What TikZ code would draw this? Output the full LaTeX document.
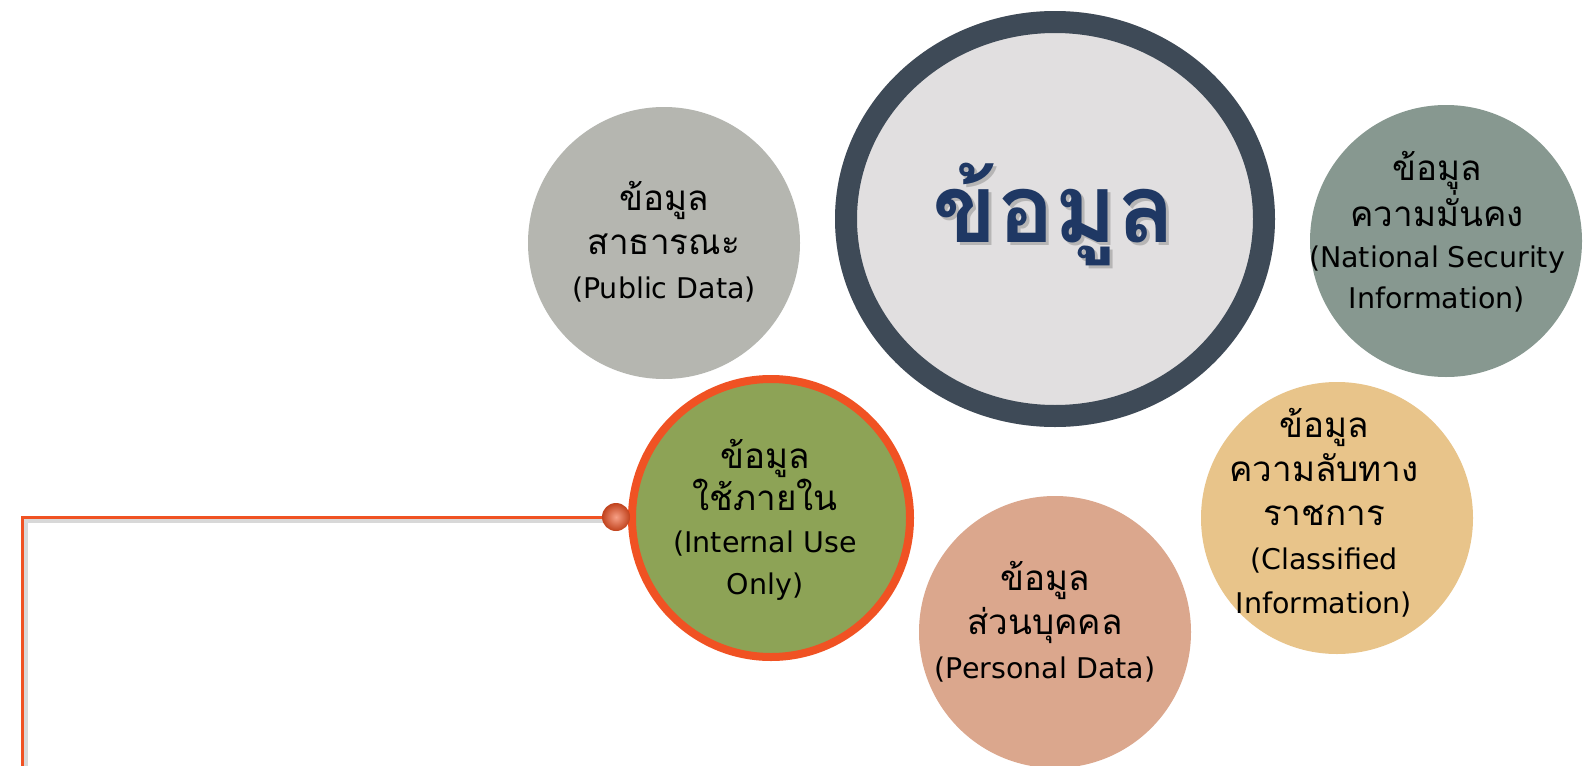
\documentclass[tikz,border=0pt]{standalone}
\usepackage{fontspec}
\newfontfamily\thaifont[Script=Thai]{Loma}
\newfontfamily\latinfont{DejaVu Sans}
\usetikzlibrary{shadings}
\definecolor{pubfill}{HTML}{B5B6B0}
\definecolor{bigfill}{HTML}{E1DFE0}
\definecolor{bigring}{HTML}{3E4A57}
\definecolor{natfill}{HTML}{879890}
\definecolor{intfill}{HTML}{8DA356}
\definecolor{orangeline}{HTML}{F05223}
\definecolor{clsfill}{HTML}{E8C48A}
\definecolor{perfill}{HTML}{DBA78D}
\definecolor{navy}{HTML}{1F3864}
\newcommand\thline[1]{{\thaifont\fontsize{35}{44}\selectfont #1}}
\newcommand\enline[1]{{\latinfont\fontsize{28.5}{44}\selectfont #1}}
\tikzset{
  bubble/.style={circle, inner sep=0pt, minimum size=272pt, draw=none},
  label/.style={align=center, text=black, font=\latinfont\fontsize{28.5}{44}\selectfont, inner sep=0pt},
  conn/.style={draw=orangeline, line width=3pt},
  connshadow/.style={draw=black!30, line width=4pt, opacity=0.5},
}
\begin{document}
\begin{tikzpicture}[x=1pt, y=-1pt]
\useasboundingbox (0,0) rectangle (1583,766);
\fill[white] (0,0) rectangle (1583,766);
% connector shadow
\coordinate (bottomS) at (26,770);
\coordinate (dotS) at (610,521);
\draw[connshadow] (bottomS) |- (dotS);
% bubbles
\node[bubble, fill=pubfill] (pub) at (664,243) {};
\fill[bigfill] (1055,219) ellipse [x radius=220pt, y radius=208pt];
\draw[bigring, line width=22pt] (1055,219) ellipse [x radius=209pt, y radius=197pt];
\node[inner sep=0pt] (big) at (1055,219) {};
\node[bubble, fill=natfill] (nat) at (1446,241) {};
\node[bubble, fill=clsfill] (cls) at (1337,518) {};
\node[bubble, fill=perfill] (per) at (1055,632) {};
\node[circle, inner sep=0pt, minimum size=278pt, fill=intfill, draw=orangeline, line width=8pt] (int) at (771,518) {};
% connector
\coordinate (bottomA) at (22,770);
\node[circle, inner sep=0pt, minimum size=28pt, shading=radial, inner color=orangeline!55!white, outer color=orangeline!80!black] (dot) at (616,517) {};
\draw[conn] (bottomA) |- (dot.west);
% texts
\node[label] (pubt) at (664,242) {\thline{ข้อมูล}\\\thline{สาธารณะ}\\\enline{(Public Data)}};
\node[text=black!45, opacity=0.5, font=\thaifont\bfseries\fontsize{95}{95}\selectfont, inner sep=0pt] (bigsh) at (1057,217) {ข้อมูล};
\node[text=navy, font=\thaifont\bfseries\fontsize{95}{95}\selectfont, inner sep=0pt] (bigt) at (1054,214) {ข้อมูล};
\node[label, font=\latinfont\fontsize{28.5}{41}\selectfont] (natt) at (1437,232) {\thline{ข้อมูล}\\\thline{ความมั่นคง}\\\enline{(National Security}\\\enline{Information)}};
\node[label] (clst) at (1324,513) {\thline{ข้อมูล}\\\thline{ความลับทาง}\\\thline{ราชการ}\\\enline{(Classified}\\\enline{Information)}};
\node[label] (pert) at (1045,622) {\thline{ข้อมูล}\\\thline{ส่วนบุคคล}\\\enline{(Personal Data)}};
\node[label, font=\latinfont\fontsize{28.5}{42}\selectfont] (intt) at (765,520) {\thline{ข้อมูล}\\\thline{ใช้ภายใน}\\\enline{(Internal Use}\\\enline{Only)}};
\end{tikzpicture}
\end{document}
